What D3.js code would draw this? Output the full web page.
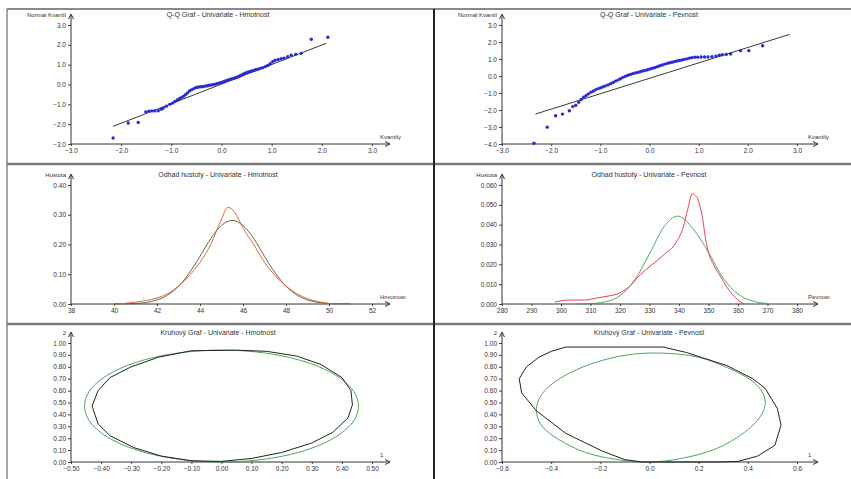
<!DOCTYPE html>
<html><head><meta charset="utf-8">
<script src="https://cdn.jsdelivr.net/npm/d3@7"></script>
<style>
body{margin:0;background:#fff}
svg text{font-family:"Liberation Sans",Arial,sans-serif;fill:#333}
.tick text{font-size:6.5px}
.ttl{font-size:7px}
.lab{font-size:6px}
</style></head><body><div id="chart"></div>
<script>
const W = 851, H = 479

// --- Q-Q, Hmotnost
const qqHmX = [-2.16,-1.86,-1.66,-1.51,-1.45,-1.39,-1.33,-1.26,-1.20,-1.16,-1.10,-1.03,-0.98,-0.93,-0.88,-0.84,-0.80,-0.76,-0.72,-0.68,-0.64,-0.60,-0.56,-0.52,-0.48,-0.44,-0.40,-0.36,-0.32,-0.28,-0.24,-0.20,-0.16,-0.12,-0.08,-0.04,0.00,0.04,0.08,0.12,0.16,0.20,0.24,0.28,0.32,0.36,0.40,0.44,0.48,0.52,0.56,0.60,0.64,0.68,0.72,0.77,0.82,0.87,0.92,0.97,1.02,1.07,1.13,1.19,1.25,1.32,1.39,1.48,1.59,1.79,2.12]
const qqHmY = [-2.70,-1.94,-1.91,-1.38,-1.35,-1.33,-1.33,-1.32,-1.25,-1.19,-1.10,-1.00,-0.94,-0.86,-0.78,-0.72,-0.66,-0.60,-0.52,-0.43,-0.33,-0.27,-0.22,-0.17,-0.14,-0.12,-0.11,-0.10,-0.08,-0.06,-0.04,-0.02,0.00,0.02,0.05,0.08,0.10,0.14,0.18,0.22,0.25,0.28,0.31,0.34,0.38,0.43,0.48,0.53,0.58,0.62,0.65,0.68,0.71,0.74,0.77,0.81,0.85,0.90,0.96,1.05,1.15,1.22,1.26,1.30,1.33,1.40,1.48,1.52,1.57,2.28,2.38]
const qqHmLine = [[-2.16,-2.11],[2.09,2.08]]

// --- Q-Q, Pevnost
const qqPvX = [-2.35,-2.08,-1.91,-1.77,-1.63,-1.56,-1.50,-1.44,-1.39,-1.34,-1.29,-1.24,-1.19,-1.14,-1.09,-1.04,-0.99,-0.94,-0.89,-0.84,-0.79,-0.74,-0.69,-0.64,-0.59,-0.54,-0.49,-0.44,-0.39,-0.34,-0.29,-0.24,-0.19,-0.14,-0.09,-0.04,0.01,0.06,0.11,0.16,0.21,0.26,0.31,0.36,0.41,0.46,0.51,0.56,0.61,0.66,0.71,0.76,0.81,0.86,0.92,0.98,1.05,1.12,1.19,1.27,1.35,1.42,1.48,1.56,1.65,1.85,2.02,2.30]
const qqPvY = [-3.96,-3.01,-2.34,-2.24,-2.04,-1.80,-1.72,-1.55,-1.38,-1.25,-1.15,-1.05,-0.95,-0.88,-0.80,-0.74,-0.69,-0.63,-0.58,-0.52,-0.45,-0.38,-0.30,-0.23,-0.16,-0.08,-0.02,0.04,0.09,0.14,0.18,0.21,0.25,0.29,0.33,0.37,0.41,0.46,0.50,0.55,0.60,0.65,0.70,0.74,0.78,0.81,0.85,0.88,0.91,0.94,0.98,1.01,1.05,1.08,1.10,1.11,1.12,1.12,1.12,1.13,1.17,1.22,1.25,1.27,1.29,1.49,1.49,1.78]
const qqPvLine = [[-2.32,-2.24],[2.85,2.45]]

// --- density, Hmotnost
const kdeHmX = [40,40.5,41,41.5,42,42.5,43,43.5,44,44.5,45,45.3,45.6,46,46.5,47,47.5,48,48.5,49,49.5,50,50.5]
const kdeHmY = [0,0.002,0.006,0.012,0.02,0.035,0.06,0.095,0.14,0.20,0.285,0.325,0.31,0.255,0.20,0.14,0.095,0.06,0.035,0.018,0.008,0.002,0]
const nrmHmX = [40,41,42,42.5,43,43.5,44,44.5,45,45.5,46,46.5,47,47.5,48,48.5,49,50,51]
const nrmHmY = [0.0002,0.0018,0.0137,0.0304,0.0597,0.104,0.160,0.220,0.264,0.281,0.264,0.220,0.160,0.104,0.0597,0.0304,0.0137,0.0018,0.0002]

// --- density, Pevnost
const kdePvX = [298,303,308,312,316,319,323,327,331,335,339,341.5,343,344.5,346,347,348,349,350,352,354,356,358,360,362]
const kdePvY = [0.001,0.002,0.002,0.003,0.004,0.005,0.0086,0.015,0.02,0.025,0.031,0.039,0.048,0.0555,0.054,0.050,0.043,0.033,0.026,0.019,0.014,0.009,0.005,0.002,0]
const nrmPvX = [305,310,315,320,325,330,335,339.5,345,350,355,360,365,370]
const nrmPvY = [0,0.0002,0.0011,0.0042,0.0121,0.0253,0.0391,0.0443,0.0375,0.026,0.013,0.005,0.0015,0.0002]

// --- ellipses, Hmotnost
const elHmGreenX = [0.455,0.440,0.394,0.322,0.228,0.118,0,-0.118,-0.228,-0.322,-0.394,-0.440,-0.455,-0.440,-0.394,-0.322,-0.228,-0.118,0,0.118,0.228,0.322,0.394,0.440]
const elHmGreenY = [0.470,0.592,0.705,0.802,0.877,0.924,0.940,0.924,0.877,0.802,0.705,0.592,0.470,0.348,0.235,0.138,0.063,0.016,0,0.016,0.063,0.138,0.235,0.348]
const elHmBlackX = [-0.10,0.05,0.15,0.25,0.33,0.40,0.43,0.435,0.42,0.37,0.30,0.20,0.10,0,-0.10,-0.20,-0.29,-0.37,-0.41,-0.43,-0.41,-0.37,-0.30,-0.21]
const elHmBlackY = [0.935,0.94,0.93,0.89,0.82,0.71,0.60,0.48,0.37,0.25,0.16,0.08,0.03,0.005,0.01,0.05,0.12,0.22,0.32,0.47,0.60,0.71,0.80,0.88]

// --- ellipses, Pevnost
const elPvGreenX = [0.05,0.2,0.33,0.43,0.47,0.45,0.38,0.27,0.13,0,-0.13,-0.26,-0.37,-0.44,-0.46,-0.43,-0.35,-0.23,-0.09]
const elPvGreenY = [0.915,0.88,0.78,0.66,0.52,0.38,0.24,0.11,0.03,0,0.02,0.08,0.19,0.31,0.45,0.59,0.72,0.83,0.90]
const elPvBlackX = [-0.34,-0.15,0.056,0.15,0.315,0.42,0.47,0.52,0.535,0.51,0.44,0.36,0.285,0.1,-0.03,-0.10,-0.19,-0.34,-0.46,-0.52,-0.53,-0.50,-0.45,-0.40]
const elPvBlackY = [0.966,0.966,0.966,0.92,0.81,0.70,0.62,0.45,0.31,0.14,0.05,0.005,0,0,0,0.02,0.09,0.24,0.43,0.58,0.70,0.80,0.88,0.93]

// tick values
const qqHmTicks = [-3,-2,-1,0,1,2,3]
const qqPvYTicks = [-4,-3,-2,-1,0,1,2,3]
const denHmXTicks = [38,40,42,44,46,48,50,52]
const denHmYTicks = [0,0.1,0.2,0.3,0.4]
const denPvXTicks = [280,290,300,310,320,330,340,350,360,370,380]
const denPvYTicks = [0,0.01,0.02,0.03,0.04,0.05,0.06]
const elYTicks = [0,0.1,0.2,0.3,0.4,0.5,0.6,0.7,0.8,0.9,1.0]
const elHmXTicks = [-0.5,-0.4,-0.3,-0.2,-0.1,0,0.1,0.2,0.3,0.4,0.5]
const elPvXTicks = [-0.6,-0.4,-0.2,0,0.2,0.4,0.6]

const titles = [
  "Q-Q Graf - Univariate - Hmotnost", "Q-Q Graf - Univariate - Pevnost",
  "Odhad hustoty - Univariate - Hmotnost", "Odhad hustoty - Univariate - Pevnost",
  "Kruhový Graf - Univariate - Hmotnost", "Kruhový Graf - Univariate - Pevnost"
]

const cols = [{ax: 71, end: 372, arrow: 390}, {ax: 502, end: 797, arrow: 818}],
    rows = [{top: 25, base: 144}, {top: 185, base: 304}, {top: 343, base: 462}]

const svg = d3.select("#chart").append("svg")
  .attr("width", W).attr("height", H)

// frame
svg.append("line").attr("x1", 7).attr("x2", W).attr("y1", 9).attr("y2", 9).attr("stroke", "#8a8a8a").attr("stroke-width", 2)
svg.append("line").attr("x1", 7).attr("x2", 7).attr("y1", 9).attr("y2", H).attr("stroke", "#8a8a8a").attr("stroke-width", 1.5)
;[164, 324].forEach(v => {
  svg.append("line").attr("x1", 7).attr("x2", W).attr("y1", v).attr("y2", v).attr("stroke", "#7a7a7a").attr("stroke-width", 2.5)
})
svg.append("line").attr("x1", 434).attr("x2", 434).attr("y1", 9).attr("y2", H).attr("stroke", "#222").attr("stroke-width", 2)

const zip = (a, b) => a.map((d, i) => [d, b[i]])

function panel(c, r, o) {
  const col = cols[c], row = rows[r]
  const x = d3.scaleLinear().domain(o.xd).range([col.ax, col.end])
  const y = d3.scaleLinear().domain(o.yd).range([row.base, row.top])
  const g = svg.append("g")

  const ya = g.append("g").attr("transform", `translate(${col.ax},0)`)
    .call(d3.axisLeft(y).tickValues(o.yt).tickFormat(d3.format(o.yf)).tickSize(3).tickPadding(2))
  const xa = g.append("g").attr("transform", `translate(0,${row.base})`)
    .call(d3.axisBottom(x).tickValues(o.xt).tickFormat(d3.format(o.xf)).tickSize(2).tickPadding(2))
  ya.select(".domain").remove()
  xa.select(".domain").remove()
  g.selectAll(".tick line").attr("stroke", "#444")

  // axis lines with arrows
  g.append("line").attr("x1", col.ax).attr("x2", col.ax).attr("y1", row.base).attr("y2", row.top - 10).attr("stroke", "#333")
  g.append("path").attr("d", `M${col.ax - 2.5},${row.top - 6}L${col.ax},${row.top - 11}L${col.ax + 2.5},${row.top - 6}`).attr("fill", "none").attr("stroke", "#333")
  g.append("line").attr("x1", col.ax).attr("x2", col.arrow).attr("y1", row.base).attr("y2", row.base).attr("stroke", "#333")
  g.append("path").attr("d", `M${col.arrow - 5},${row.base - 2.5}L${col.arrow},${row.base}L${col.arrow - 5},${row.base + 2.5}`).attr("fill", "none").attr("stroke", "#333")

  g.append("text").attr("class", "lab").attr("x", col.ax - 5).attr("y", row.top - 8)
    .style("text-anchor", "end").text(o.yl)
  g.append("text").attr("class", "lab").attr("x", col.arrow - 10).attr("y", row.base - 5)
    .text(o.xl)
  g.append("text").attr("class", "ttl").attr("x", col.ax + 147).attr("y", row.top - 8)
    .style("text-anchor", "middle").text(titles[r * 2 + c])

  return {g, x, y}
}

const line = (x, y, curve) => d3.line().x(d => x(d[0])).y(d => y(d[1])).curve(curve || d3.curveLinear)

// row 1: Q-Q
;[[qqHmX, qqHmY, qqHmLine, [-3, 3], qqHmTicks], [qqPvX, qqPvY, qqPvLine, [-4, 3], qqPvYTicks]].forEach((s, c) => {
  const p = panel(c, 0, {xd: [-3, 3], yd: s[3], xt: qqHmTicks, yt: s[4], xf: ".1f", yf: ".1f", yl: "Normal Kvantil", xl: "Kvantily"})
  p.g.append("path").datum(s[2]).attr("d", line(p.x, p.y)).attr("stroke", "#222").attr("stroke-width", 0.9).attr("fill", "none")
  p.g.selectAll(".pt").data(zip(s[0], s[1])).join("circle")
    .attr("cx", d => p.x(d[0])).attr("cy", d => p.y(d[1])).attr("r", 1.7).attr("fill", "#2a2ad8")
})

// row 2: density
;[[kdeHmX, kdeHmY, nrmHmX, nrmHmY, [38, 52], denHmXTicks, [0, 0.4], denHmYTicks, ".0f", ".2f", "Hmotnost", "#e0552e", "#4a5e40"],
  [kdePvX, kdePvY, nrmPvX, nrmPvY, [280, 380], denPvXTicks, [0, 0.06], denPvYTicks, ".0f", ".3f", "Pevnost", "#e8284a", "#3aa35a"]].forEach((s, c) => {
  const p = panel(c, 1, {xd: s[4], yd: s[6], xt: s[5], yt: s[7], xf: s[8], yf: s[9], yl: "Hustota", xl: s[10]})
  p.g.append("path").datum(zip(s[2], s[3])).attr("d", line(p.x, p.y, d3.curveMonotoneX)).attr("stroke", s[12]).attr("stroke-width", 0.9).attr("fill", "none")
  p.g.append("path").datum(zip(s[0], s[1])).attr("d", line(p.x, p.y, d3.curveMonotoneX)).attr("stroke", s[11]).attr("stroke-width", 0.9).attr("fill", "none")
})

// row 3: ellipses
;[[elHmGreenX, elHmGreenY, elHmBlackX, elHmBlackY, [-0.5, 0.5], elHmXTicks, ".2f"],
  [elPvGreenX, elPvGreenY, elPvBlackX, elPvBlackY, [-0.6, 0.6], elPvXTicks, ".1f"]].forEach((s, c) => {
  const p = panel(c, 2, {xd: s[4], yd: [0, 1], xt: s[5], yt: elYTicks, xf: s[6], yf: ".2f", yl: "2", xl: "1"})
  p.g.append("path").datum(zip(s[0], s[1])).attr("d", line(p.x, p.y, d3.curveCardinalClosed)).attr("stroke", "#3c9a48").attr("stroke-width", 0.9).attr("fill", "none")
  p.g.append("path").datum(zip(s[2], s[3])).attr("d", line(p.x, p.y, d3.curveLinearClosed)).attr("stroke", "#222").attr("stroke-width", 1).attr("fill", "none")
})
</script></body></html>
